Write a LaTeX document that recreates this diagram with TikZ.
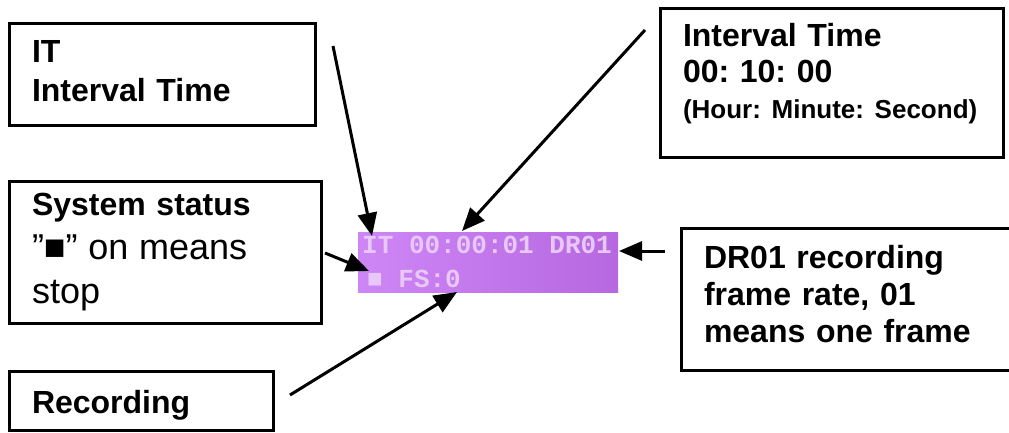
\documentclass[tikz,border=0pt]{standalone}
\usepackage{fontspec}
\setmainfont{Liberation Sans}
\setmonofont{Liberation Mono}
\usetikzlibrary{arrows.meta}
\frenchspacing
\definecolor{osdleft}{RGB}{206,134,246}
\definecolor{osdright}{RGB}{182,104,224}
\definecolor{osdtext}{RGB}{232,200,248}
\begin{document}
\begin{tikzpicture}[x=1pt,y=-1pt]
\tikzstyle{callout}=[rectangle, draw=black, line width=3pt, anchor=north west, inner xsep=22.5pt, inner ysep=0pt, outer sep=0pt, align=left, font=\bfseries\fontsize{32}{39}\selectfont]
\tikzstyle{pointer}=[line width=3pt, -{Triangle[length=23pt,width=19pt]}]
\tikzstyle{osdline}=[anchor=base west, inner sep=0pt, text=osdtext, font=\ttfamily\bfseries\fontsize{26}{30}\selectfont]

\useasboundingbox (0,0) rectangle (1009,433);
\clip (0,0) rectangle (1009,433);

% IT box
\node[callout, text width=261pt, text height=39.5pt, text depth=62.5pt] (b1) at (9.5,23.5) {IT\\Interval Time};

% Interval time box
\node[callout, text width=298pt, text height=38.5pt, text depth=110.5pt, font=\bfseries\fontsize{32}{36}\selectfont] (b2) at (660.5,8.5) {Interval Time\\00: 10: 00\\{\fontsize{26}{30}\selectfont (Hour: Minute: Second)}};

% System status box
\node[callout, text width=267pt, text height=33.5pt, text depth=108.5pt, font=\bfseries\fontsize{32}{44}\selectfont] (b3) at (9.5,181.5) {System status\\{\mdseries\fontsize{36}{44}\selectfont ”■” on means\\stop}};

% Frame rate box
\node[callout, text width=295pt, text height=39.5pt, text depth=102.5pt, font=\bfseries\fontsize{32}{37}\selectfont] (b4) at (681.5,228.5) {DR01 recording\\frame rate, 01\\means one frame};

% Recording box
\node[callout, text width=219pt, text height=41.5pt, text depth=17.5pt] (b5) at (9.5,371.5) {Recording};

% Screen display
\node[rectangle, anchor=north west, inner sep=0pt, minimum width=260pt, minimum height=60pt, left color=osdleft, right color=osdright] (d0) at (358,232) {};
\node[osdline] (d1) at (362,253) {IT 00:00:01 DR01};
\node[osdline] (d2) at (367,287) {■ FS:0};

% Pointers
\coordinate (a1) at (333,46);
\coordinate (t1) at (372,236);
\coordinate (a2) at (645,30);
\coordinate (t2) at (462,231);
\coordinate (a3) at (325,253);
\coordinate (t3) at (369,271);
\coordinate (a4) at (665,251);
\coordinate (t4) at (619,251);
\coordinate (a5) at (290,395);
\coordinate (t5) at (457,292);

\draw[pointer] (a1) -- (t1);
\draw[pointer] (a2) -- (t2);
\draw[pointer] (a3) -- (t3);
\draw[pointer] (a4) -- (t4);
\draw[pointer] (a5) -- (t5);
\end{tikzpicture}
\end{document}
